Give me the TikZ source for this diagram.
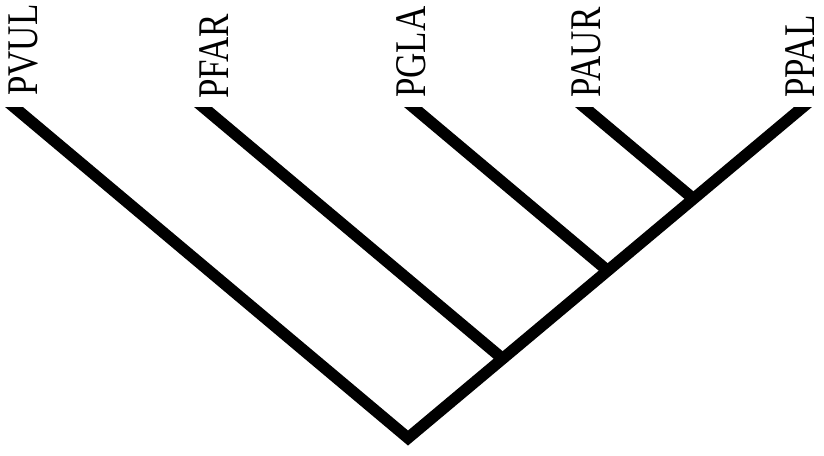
\documentclass[tikz,border=0pt]{standalone}
\usepackage{fontspec}
\setmainfont{Liberation Serif}
\begin{document}
\begin{tikzpicture}[x=1pt,y=-1pt,
  taxon/.style={rotate=90, anchor=base west, inner sep=0pt, font=\fontsize{35}{35}\selectfont},
  branch/.style={line width=11.5pt, line join=miter, line cap=butt, black}]
\useasboundingbox (0,0) rectangle (824,455);
\fill[white] (0,0) rectangle (824,455);
% taxon labels
\node[taxon] (PVUL) at (37,96) {\scalebox{1}[1.25]{PVUL}};
\node[taxon] (PFAR) at (228,99) {\scalebox{1}[1.25]{PFAR}};
\node[taxon] (PGLA) at (425,98) {\scalebox{1}[1.25]{PGLA}};
\node[taxon] (PAUR) at (600,98) {\scalebox{1}[1.25]{PAUR}};
\node[taxon] (PPAL) at (814,98) {\scalebox{1}[1.25]{PPAL}};
% tree coordinates
\coordinate (V) at (408,438);
\coordinate (tVUL) at (-0.3,95);
\coordinate (tPPAL) at (817.3,95);
\coordinate (J1) at (502.6,358.7);
\coordinate (tFAR) at (188.7,95);
\coordinate (J2) at (607.7,270.7);
\coordinate (tGLA) at (398.7,95);
\coordinate (J3) at (693.4,198.8);
\coordinate (tAUR) at (569.7,95);
\begin{scope}
\clip (-20,107) rectangle (844,470);
\draw[branch] (tVUL) -- (V) -- (tPPAL);
\draw[branch] (tFAR) -- (J1);
\draw[branch] (tGLA) -- (J2);
\draw[branch] (tAUR) -- (J3);
\end{scope}
\end{tikzpicture}
\end{document}
